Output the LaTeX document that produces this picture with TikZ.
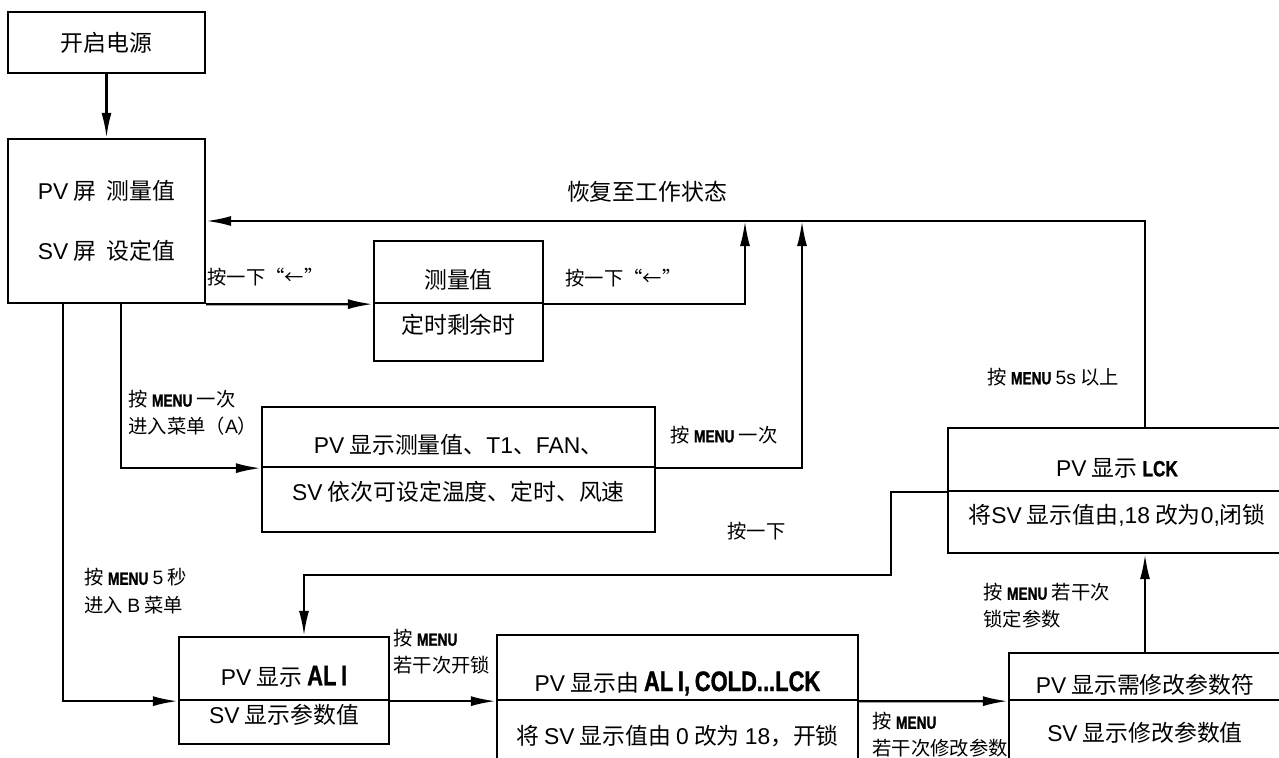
\documentclass[tikz,border=0pt]{standalone}
\usepackage{fontspec}
\setmainfont{Noto Sans CJK SC}
\newfontfamily\entxtfont{Liberation Sans}
\newfontfamily\codefont[UprightFont={* Bold},FakeStretch=0.78,FakeBold=1.2]{Liberation Sans}
\newcommand{\entxt}[1]{{\entxtfont #1}}
\newcommand{\dispcode}[2][16]{{\codefont\fontsize{#1}{#1}\selectfont #2}}
\newcommand{\keymenu}{\dispcode[10]{MENU}}
\usetikzlibrary{arrows.meta,calc}

\begin{document}
\begin{tikzpicture}
[x=0.2mm,y=-0.2mm,
 box/.style={draw,line width=1.3pt,inner sep=0pt,font=\fontsize{13}{16}\selectfont},
 upper/.style={box,text height=7.7mm,text depth=1mm},
 lower/.style={box,text height=4.5mm,text depth=4mm},
 lab/.style={inner sep=0pt,anchor=west,align=left,font=\fontsize{11}{15.5}\selectfont},
 arr/.style={line width=1.3pt,-{Latex[length=5mm,width=2mm]}}]
\useasboundingbox (0,0) rectangle (1279,757);
\clip (0,0) rectangle (1279,757);

% boxes
\node[box,minimum width=39.4mm,minimum height=12.2mm] (pwr) at (106.5,42.5) {开启电源};
\node[box,minimum width=39.4mm,minimum height=32.8mm,align=left] (main) at (106.5,221) {\entxt{PV} 屏\ \ 测量值\\[6.4mm]\entxt{SV} 屏\ \ 设定值};
\node[upper,minimum width=33.8mm,minimum height=12.4mm] (tm1) at (458.5,272) {测量值};
\node[lower,minimum width=33.8mm,minimum height=11.6mm] (tm2) at (458.5,332) {定时剩余时};
\node[upper,minimum width=78.6mm,minimum height=12mm] (ma1) at (458.5,437) {\entxt{PV} 显示测量值、\entxt{T1}、\entxt{FAN}、};
\node[lower,minimum width=78.6mm,minimum height=13mm] (ma2) at (458.5,499.5) {\entxt{SV} 依次可设定温度、定时、风速};
\node[upper,minimum width=42mm,minimum height=12.6mm] (ali1) at (284,668.5) {\entxt{PV} 显示 \dispcode{AL\,I}};
\node[lower,minimum width=42mm,minimum height=8.8mm] (ali2) at (284,722) {\entxt{SV} 显示参数值};
\node[upper,minimum width=72.2mm,minimum height=13mm,text height=10.4mm] (cold1) at (677.5,667.5) {\entxt{PV} 显示由 \dispcode{AL\,I,\,COLD...LCK}};
\node[lower,minimum width=72.2mm,minimum height=17.2mm] (cold2) at (677.5,743) {将 \entxt{SV} 显示值由 \entxt{0} 改为 \entxt{18}，开锁};
\node[upper,minimum width=67.6mm,minimum height=12.6mm] (lck1) at (1117,459.5) {\entxt{PV} 显示 \dispcode[12.5]{LCK}};
\node[lower,minimum width=67.6mm,minimum height=12.4mm] (lck2) at (1117,522) {将\entxt{SV} 显示值由\entxt{,18} 改为\entxt{0,}闭锁};
\node[upper,minimum width=54.4mm,minimum height=9.4mm] (sym1) at (1145,676.5) {\entxt{PV} 显示需修改参数符};
\node[lower,minimum width=54.4mm,minimum height=16mm] (sym2) at (1145,740) {\entxt{SV} 显示修改参数值};

% labels
\node[lab,anchor=center,font=\fontsize{13}{16}\selectfont] (ret) at (647,192) {恢复至工作状态};
\node[lab] (k1) at (207,277) {按一下“←”};
\node[lab] (k2) at (565,278) {按一下“←”};
\node[lab] (k3) at (128,413) {按 \keymenu{} 一次\\进入菜单（\entxt{A}）};
\node[lab] (k4) at (670,435) {按 \keymenu{} 一次};
\node[lab] (k5) at (987,377) {按 \keymenu{} \entxt{5s} 以上};
\node[lab] (k6) at (727,531) {按一下};
\node[lab] (k7) at (84,591) {按 \keymenu{} \entxt{5} 秒\\进入 \entxt{B} 菜单};
\node[lab] (k8) at (393,652) {按 \keymenu\\若干次开锁};
\node[lab] (k9) at (872,735) {按 \keymenu\\若干次修改参数};
\node[lab] (k10) at (983,606) {按 \keymenu{} 若干次\\锁定参数};

\coordinate (up1) at (745,221);
\coordinate (up2) at (802,221);

% connectors
\draw[arr] (pwr) -- (main);
\draw[arr] (sym1.north |- lck1.north) |- (main.east);
\draw[arr] (main.south east) -- (tm1.south west);
\draw[arr] (tm1.south east) -| (up1);
\draw[arr] ($(main.south west)+(114,0)$) |- (ma1.south west);
\draw[arr] (ma1.south east) -| (up2);
\draw[arr] ($(main.south west)+(56,0)$) |- (ali1.south west);
\draw[arr] (ali1.south east) -- (cold1.south west);
\draw[arr] (cold1.south east) -- (sym1.south west);
\draw[arr] (sym1.north) -- (sym1.north |- lck2.south);
\draw[arr] (lck1.south west) -- ++(-56,0) -- ++(0,83) -| ($(ali1.north)+(20,0)$);
\end{tikzpicture}
\end{document}
